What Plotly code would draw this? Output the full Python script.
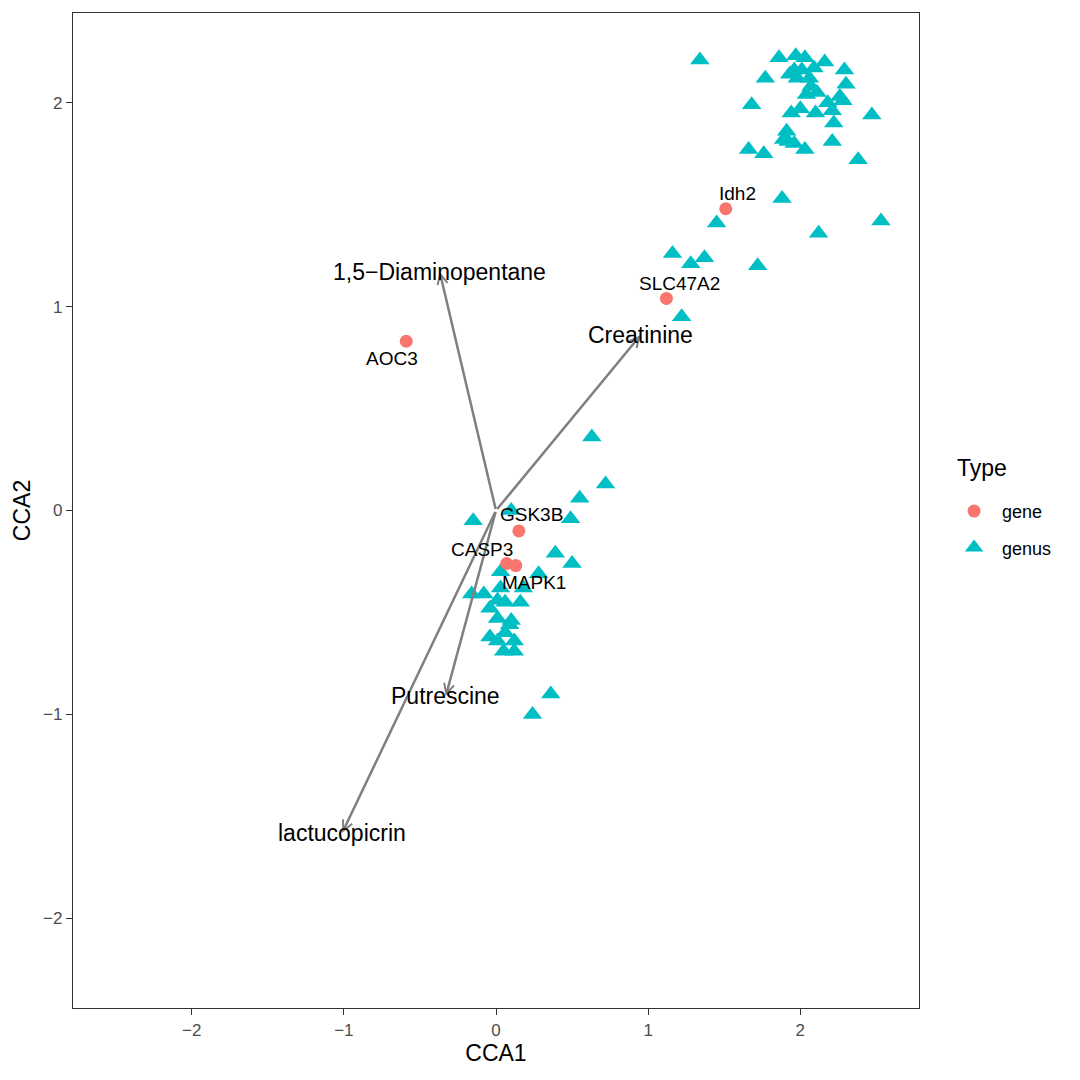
import plotly.graph_objects as go

# gene scores (red circles)
gene_names = ["Idh2", "SLC47A2", "AOC3", "GSK3B", "CASP3", "MAPK1"]
gene_x = [1.51, 1.12, -0.59, 0.15, 0.07, 0.13]
gene_y = [1.48, 1.04, 0.83, -0.10, -0.26, -0.27]

# genus scores (cyan triangles)
genus_x = [1.34, 1.86, 1.97, 2.03, 2.16, 1.96, 2.01, 2.09, 2.29, 1.98, 2.06, 1.77,
           2.30, 2.11, 2.04, 2.26, 2.28, 1.68, 2.00, 1.94, 2.10, 2.21, 2.47, 2.22,
           1.91, 1.89, 1.96, 2.03, 2.21, 1.66, 1.76, 2.38, 1.93, 2.07, 2.18, 1.92,
           1.88, 1.45, 2.12, 2.53, 1.16, 1.28, 1.37, 1.72, 1.22,
           0.63, 0.72, 0.55, 0.49, -0.15, 0.10, 0.39, 0.50, 0.28, 0.03, -0.16, -0.08,
           0.03, 0.16, 0.06, -0.04, 0.01, 0.10, -0.04, 0.06, 0.12, 0.05, 0.12, 0.36,
           0.24, 0.01, 0.09, 0.18, 0.01]
genus_y = [2.21, 2.22, 2.23, 2.22, 2.20, 2.16, 2.16, 2.17, 2.16, 2.12, 2.12, 2.12,
           2.09, 2.05, 2.04, 2.03, 2.01, 1.99, 1.97, 1.95, 1.95, 1.96, 1.94, 1.90,
           1.86, 1.82, 1.80, 1.77, 1.81, 1.77, 1.75, 1.72, 2.14, 2.08, 2.00, 1.81,
           1.53, 1.41, 1.36, 1.42, 1.26, 1.21, 1.24, 1.20, 0.95,
           0.36, 0.13, 0.06, -0.04, -0.05, 0.00, -0.21, -0.26, -0.31, -0.30, -0.41, -0.41,
           -0.38, -0.45, -0.45, -0.48, -0.53, -0.54, -0.62, -0.60, -0.64, -0.69, -0.69, -0.90,
           -1.00, -0.64, -0.56, -0.38, -0.44]

# environmental vectors (arrows from origin)
env_names = ["1,5\u2212Diaminopentane", "Creatinine", "Putrescine", "lactucopicrin"]
env_x = [-0.37, 0.95, -0.33, -1.01]
env_y = [1.17, 0.86, -0.91, -1.58]

# ggrepel-style label nudges in pixels
label_dx = [12, 13, -14, 13, -25, 18]
label_dy = [15, 15, -17, 16, 14, -17]

FONT = "Liberation Sans, Arial, sans-serif"

fig = go.Figure()

fig.add_trace(go.Scatter(
    x=genus_x, y=genus_y, mode="markers", name="genus", legendrank=2,
    legendgroup="genus",
    marker=dict(symbol="triangle-up", size=17, color="#00BFC4"),
    hoverinfo="skip",
))
fig.add_trace(go.Scatter(
    x=gene_x, y=gene_y, mode="markers", name="gene", legendrank=1,
    legendgroup="gene",
    marker=dict(symbol="circle", size=13, color="#F8766D"),
    hoverinfo="skip",
))

annotations = []
for name, x, y in zip(env_names, env_x, env_y):
    annotations.append(dict(
        x=x, y=y, ax=0, ay=0, xref="x", yref="y", axref="x", ayref="y",
        text="", showarrow=True, arrowhead=5, arrowsize=0.8, arrowwidth=2.5,
        arrowcolor="#7F7F7F",
    ))
for name, x, y in zip(env_names, env_x, env_y):
    annotations.append(dict(
        x=x, y=y, xref="x", yref="y", text=name, showarrow=False,
        font=dict(family=FONT, size=23, color="black"),
    ))
for name, x, y, dx, dy in zip(gene_names, gene_x, gene_y, label_dx, label_dy):
    annotations.append(dict(
        x=x, y=y, xref="x", yref="y", text=name, showarrow=False,
        xshift=dx, yshift=dy,
        font=dict(family=FONT, size=19, color="black"),
    ))

# legend title drawn separately so its gap to the keys matches ggplot
annotations.append(dict(
    x=1.042, y=0.543, xref="paper", yref="paper", xanchor="left", yanchor="middle",
    text="Type", showarrow=False, font=dict(family=FONT, size=23, color="black"),
))

axis_common = dict(
    showgrid=False, zeroline=False, showline=True, mirror=True,
    linecolor="#333333", linewidth=1.3, ticks="outside", ticklen=6,
    tickcolor="#333333", tickwidth=1.3,
    tickfont=dict(family=FONT, size=17, color="#4D4D4D"),
)

fig.update_xaxes(range=[-2.78, 2.78], tickvals=[-2, -1, 0, 1, 2],
                 title=dict(text="CCA1", font=dict(family=FONT, size=23, color="black"), standoff=6),
                 **axis_common)
fig.update_yaxes(range=[-2.44, 2.44], tickvals=[-2, -1, 0, 1, 2],
                 title=dict(text="CCA2", font=dict(family=FONT, size=23, color="black"), standoff=6),
                 **axis_common)

fig.update_layout(
    width=1080, height=1080,
    paper_bgcolor="white", plot_bgcolor="white",
    margin=dict(l=65, r=169, t=5, b=80),
    annotations=annotations,
    legend=dict(
        font=dict(family=FONT, size=18, color="black"),
        x=1.032, xanchor="left", y=0.481, yanchor="middle",
        traceorder="grouped", tracegroupgap=10, itemwidth=46,
    ),
)

fig.write_html("out.html")
